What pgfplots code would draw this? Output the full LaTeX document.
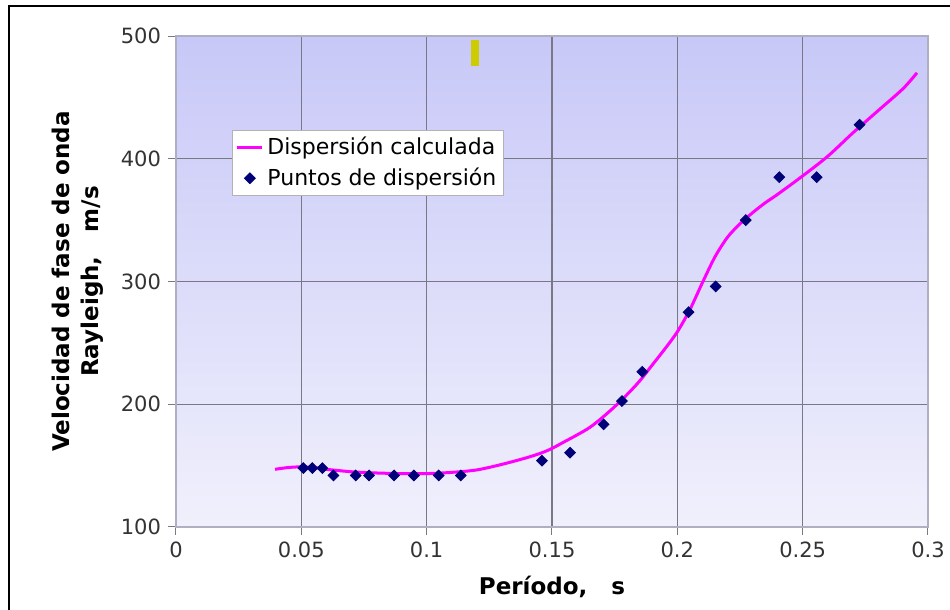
\documentclass[border=0pt]{standalone}
\usepackage{fontspec}
\setmainfont{DejaVu Sans}
\usepackage{pgfplots}
\pgfplotsset{compat=1.18}
\definecolor{bgtop}{RGB}{200,200,248}
\definecolor{bgbot}{RGB}{240,240,252}
\definecolor{curvec}{RGB}{255,0,255}
\definecolor{ptc}{RGB}{0,0,120}
\definecolor{gridc}{RGB}{120,120,135}
\definecolor{boxc}{RGB}{175,175,195}
\definecolor{yel}{RGB}{204,204,0}
\pgfplotsset{
  lineleg/.style={legend image code/.code={\draw[#1, line width=1.5pt] (0pt,0pt) -- (12.5pt,0pt);}},
  markleg/.style={legend image code/.code={\draw[mark repeat=1, mark phase=1, #1] plot coordinates {(6.5pt,0pt)};}},
}
\begin{document}
\begin{tikzpicture}
\begin{axis}[
  at={(0,0)}, anchor=south west,
  scale only axis,
  width=376pt, height=245.5pt,
  xmin=0, xmax=0.3, ymin=100, ymax=500,
  xtick={0,0.05,...,0.3},
  ytick={100,200,300,400,500},
  xticklabels={0,0.05,0.1,0.15,0.2,0.25,0.3},
  /pgf/number format/assume math mode=true,
  tick label style={font=\fontsize{10.5}{12}\selectfont, text=black!80},
  grid=major,
  major grid style={gridc, line width=0.6pt},
  axis line style={boxc, line width=0.6pt},
  tick style={gridc, line width=0.5pt},
  tick align=outside,
  major tick length=4pt,
  xtick pos=bottom, ytick pos=left,
  axis background/.style={top color=bgtop, bottom color=bgbot},
  xlabel={\textbf{Período,\ \ \ s}},
  ylabel={\textbf{Velocidad de fase de onda}\\[1.5pt]\textbf{Rayleigh,\ \ \ m/s}},
  label style={font=\fontsize{11.5}{13}\selectfont},
  xlabel style={yshift=-2pt},
  ylabel style={align=center, yshift=2pt},
  legend style={at={(rel axis cs:0.0745,0.8086)}, anchor=north west,
    draw=black!30, fill=white, font=\fontsize{11}{12.5}\selectfont,
    inner sep=1.5pt, row sep=1pt, cells={anchor=west}},
]
\addplot[curvec, line width=1.5pt, smooth, tension=0.5, lineleg] coordinates {
(0.0395,147) (0.045,148.5) (0.05,149) (0.055,148.5) (0.06,147) (0.07,145)
(0.08,144) (0.09,143.5) (0.10,143.5) (0.11,144.5) (0.12,146.5) (0.13,151)
(0.14,156.5) (0.146,160.5) (0.15,164) (0.155,169.5) (0.16,175) (0.165,181)
(0.17,189) (0.175,198) (0.18,208) (0.185,219) (0.19,232) (0.195,245)
(0.2,259) (0.205,277) (0.21,299) (0.215,320) (0.22,336) (0.225,347)
(0.23,356) (0.235,364) (0.24,371) (0.25,386) (0.26,402) (0.27,421)
(0.28,439) (0.29,457) (0.2956,470)
};
\addlegendentry{Dispersión calculada}
\addplot[only marks, mark=square*, mark size=1.9pt, ptc,
  mark options={fill=ptc, draw=ptc, rotate=45}, markleg] coordinates {
(0.0508,148) (0.0544,148) (0.0584,148) (0.0628,142) (0.0717,142) (0.0770,142)
(0.0870,142) (0.0949,142) (0.1048,142) (0.1136,142) (0.1460,154) (0.1572,160.5)
(0.1706,183.6) (0.1779,202.6) (0.1860,226.5) (0.2045,275) (0.2153,296)
(0.2273,350) (0.2407,385) (0.2556,385) (0.2727,427.7)
};
\addlegendentry{Puntos de dispersión}
\fill[yel] (axis cs:0.1177,475.6) rectangle (axis cs:0.1209,496.7);
\end{axis}
\draw[black, line width=1pt] (-83.5pt,-50pt) -- (-83.5pt,260.5pt) -- (395pt,260.5pt);
\pgfresetboundingbox
\useasboundingbox (-88pt,-41.5pt) rectangle (387pt,263.5pt);
\end{tikzpicture}
\end{document}
